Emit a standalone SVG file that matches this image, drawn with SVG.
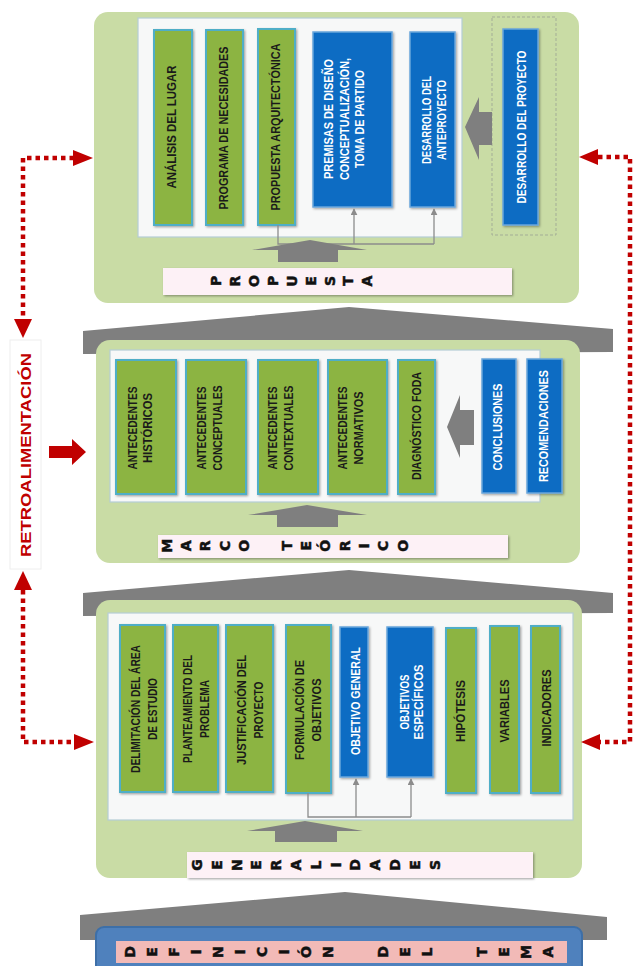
<svg xmlns="http://www.w3.org/2000/svg" width="640" height="966" viewBox="0 0 640 966">
<defs>
<style>
.panel{fill:#c9dca5}
.inner{fill:#f7f8f8;stroke:#b5cdd6;stroke-width:1.2}
.gbox{fill:#8cb443;stroke:#4faec7;stroke-width:2}
.bbox{fill:#0b6cc3;stroke:#6aa6dc;stroke-width:1.5}
.gray{fill:#7f7f7f}
.bar{fill:#fdf1f6}
.t{font-family:"Liberation Sans",Arial,sans-serif;font-weight:bold;font-size:13px;fill:#1a1a1a}
.tw{font-family:"Liberation Sans",Arial,sans-serif;font-weight:bold;font-size:12.5px;fill:#ffffff}
.title{font-family:"DejaVu Sans",sans-serif;font-weight:bold;font-size:14px;fill:#111111;stroke:#111111;stroke-width:0.5}
.conn{fill:none;stroke:#8c8c8c;stroke-width:1.3}
.fb{fill:none;stroke:#c00000;stroke-width:4.5;stroke-dasharray:4.5 4}
.red{fill:#c00000}
</style>
<marker id="ga" viewBox="0 0 10 10" refX="9" refY="5" markerWidth="7" markerHeight="7" markerUnits="userSpaceOnUse" orient="auto"><path d="M0,0 L10,5 L0,10 z" fill="#8c8c8c"/></marker>
<filter id="sh" x="-10%" y="-10%" width="130%" height="130%"><feDropShadow dx="1.2" dy="1.2" stdDeviation="1" flood-color="#000" flood-opacity="0.35"/></filter>
</defs>
<rect width="640" height="966" fill="#ffffff"/>

<g id="roofs">
<polygon class="gray" points="83,331 349,307 613,329 613,352 83,354"/>
<polygon class="gray" points="83,593 349,570 613,593 613,613 83,616"/>
<polygon class="gray" points="80,915 345,892 607,917 607,940 80,940"/>
</g>

<g id="panel-propuesta">
<rect class="panel" x="94" y="12" width="485" height="291" rx="14"/>
<rect class="inner" x="138" y="18" width="324" height="219"/>
<rect x="492" y="17" width="64" height="218" fill="none" stroke="#a3ad96" stroke-width="1" stroke-dasharray="3 2"/>
<g id="n-analisis"><rect class="gbox" filter="url(#sh)" x="154" y="30" width="38" height="195"/>
<text class="t" font-size="13.5" transform="translate(171,127) rotate(-90)" text-anchor="middle" y="4.9" textLength="123" lengthAdjust="spacingAndGlyphs">ANÁLISIS DEL LUGAR</text></g>
<g id="n-programa"><rect class="gbox" filter="url(#sh)" x="206" y="30" width="37" height="195"/>
<text class="t" font-size="13.5" transform="translate(223,128) rotate(-90)" text-anchor="middle" y="4.9" textLength="163" lengthAdjust="spacingAndGlyphs">PROGRAMA DE NECESIDADES</text></g>
<g id="n-propuesta-arq"><rect class="gbox" filter="url(#sh)" x="258" y="29" width="37" height="196"/>
<text class="t" font-size="13.5" transform="translate(275,127) rotate(-90)" text-anchor="middle" y="4.9" textLength="167" lengthAdjust="spacingAndGlyphs">PROPUESTA ARQUITECTÓNICA</text></g>
<g id="n-premisas"><rect class="bbox" filter="url(#sh)" x="313" y="32" width="79" height="175"/>
<text class="tw" transform="translate(344,119) rotate(-90)" text-anchor="middle"><tspan x="0" y="-11" textLength="120" lengthAdjust="spacingAndGlyphs">PREMISAS DE DISEÑO</tspan><tspan x="0" y="4.5" textLength="122" lengthAdjust="spacingAndGlyphs">CONCEPTUALIZACIÓN,</tspan><tspan x="0" y="20" textLength="98" lengthAdjust="spacingAndGlyphs">TOMA DE PARTIDO</tspan></text></g>
<g id="n-anteproyecto"><rect class="bbox" filter="url(#sh)" x="410" y="32" width="45" height="175"/>
<text class="tw" transform="translate(434,120) rotate(-90)" text-anchor="middle"><tspan x="0" y="-3" textLength="88" lengthAdjust="spacingAndGlyphs">DESARROLLO DEL</tspan><tspan x="0" y="12" textLength="80" lengthAdjust="spacingAndGlyphs">ANTEPROYECTO</tspan></text></g>
<g id="n-proyecto"><rect class="bbox" filter="url(#sh)" x="503" y="29" width="35" height="196"/>
<text class="tw" font-size="13" transform="translate(521,127) rotate(-90)" text-anchor="middle" y="4.7" textLength="153" lengthAdjust="spacingAndGlyphs">DESARROLLO DEL PROYECTO</text></g>
<g id="t-propuesta"><rect class="bar" filter="url(#sh)" x="163" y="268" width="349" height="27"/>
<text class="title" rotate="-90" x="221.1 240.0 258.9 277.8 296.7 315.6 334.5 353.4 372.3" y="286.1 286.4 287.0 286.1 286.7 285.8 286.0 285.8 286.4">PROPUESTA</text></g>
</g>

<g id="panel-marco">
<rect class="panel" x="96" y="340" width="484" height="223" rx="14"/>
<rect class="inner" x="110" y="350" width="430" height="152"/>
<g id="n-historicos"><rect class="gbox" filter="url(#sh)" x="116" y="360" width="60" height="134"/>
<text class="t" transform="translate(140,428) rotate(-90)" text-anchor="middle"><tspan x="0" y="-3.05" textLength="83" lengthAdjust="spacingAndGlyphs">ANTECEDENTES</tspan><tspan x="0" y="12.45" textLength="70" lengthAdjust="spacingAndGlyphs">HISTÓRICOS</tspan></text></g>
<g id="n-conceptuales"><rect class="gbox" filter="url(#sh)" x="186" y="360" width="60" height="134"/>
<text class="t" transform="translate(209.5,428) rotate(-90)" text-anchor="middle"><tspan x="0" y="-3.05" textLength="83" lengthAdjust="spacingAndGlyphs">ANTECEDENTES</tspan><tspan x="0" y="12.45" textLength="85" lengthAdjust="spacingAndGlyphs">CONCEPTUALES</tspan></text></g>
<g id="n-contextuales"><rect class="gbox" filter="url(#sh)" x="258" y="360" width="60" height="134"/>
<text class="t" transform="translate(280.5,428) rotate(-90)" text-anchor="middle"><tspan x="0" y="-3.05" textLength="83" lengthAdjust="spacingAndGlyphs">ANTECEDENTES</tspan><tspan x="0" y="12.45" textLength="85" lengthAdjust="spacingAndGlyphs">CONTEXTUALES</tspan></text></g>
<g id="n-normativos"><rect class="gbox" filter="url(#sh)" x="328" y="360" width="59" height="134"/>
<text class="t" transform="translate(350.5,428) rotate(-90)" text-anchor="middle"><tspan x="0" y="-3.05" textLength="83" lengthAdjust="spacingAndGlyphs">ANTECEDENTES</tspan><tspan x="0" y="12.45" textLength="73" lengthAdjust="spacingAndGlyphs">NORMATIVOS</tspan></text></g>
<g id="n-foda"><rect class="gbox" filter="url(#sh)" x="398" y="360" width="37" height="134"/>
<text class="t" transform="translate(416,426) rotate(-90)" text-anchor="middle" y="4.7" textLength="108" lengthAdjust="spacingAndGlyphs">DIAGNÓSTICO FODA</text></g>
<g id="n-conclusiones"><rect class="bbox" filter="url(#sh)" x="482" y="359" width="34" height="134"/>
<text class="tw" font-size="13" transform="translate(497,427) rotate(-90)" text-anchor="middle" y="4.7" textLength="87" lengthAdjust="spacingAndGlyphs">CONCLUSIONES</text></g>
<g id="n-recomendaciones"><rect class="bbox" filter="url(#sh)" x="527" y="359" width="35" height="134"/>
<text class="tw" font-size="13" transform="translate(543,426) rotate(-90)" text-anchor="middle" y="4.7" textLength="112" lengthAdjust="spacingAndGlyphs">RECOMENDACIONES</text></g>
<g id="t-marco"><rect class="bar" filter="url(#sh)" x="158" y="535" width="350" height="23"/>
<text class="title" font-size="13.5" rotate="-90" x="171.9 191.2 210.5 229.8 249.1 268 291.9 311.2 330.5 349.8 369.1 388.4 407.7" y="552.7 551.2 551.2 551.0 551.7 550 550.6 550.6 551.7 551.2 548.5 551.0 551.7">MARCO TEÓRICO</text></g>
</g>

<g id="panel-generalidades">
<rect class="panel" x="96" y="600" width="486" height="278" rx="14"/>
<rect class="inner" x="108" y="613" width="465" height="207"/>
<g id="n-delimitacion"><rect class="gbox" filter="url(#sh)" x="120" y="625" width="45" height="167"/>
<text class="t" transform="translate(143.5,709) rotate(-90)" text-anchor="middle"><tspan x="0" y="-3.8" textLength="128" lengthAdjust="spacingAndGlyphs">DELIMITACIÓN DEL ÁREA</tspan><tspan x="0" y="13.2" textLength="62" lengthAdjust="spacingAndGlyphs">DE ESTUDIO</tspan></text></g>
<g id="n-planteamiento"><rect class="gbox" filter="url(#sh)" x="173" y="625" width="45" height="167"/>
<text class="t" transform="translate(195.5,709) rotate(-90)" text-anchor="middle"><tspan x="0" y="-3.8" textLength="108" lengthAdjust="spacingAndGlyphs">PLANTEAMIENTO DEL</tspan><tspan x="0" y="13.2" textLength="58" lengthAdjust="spacingAndGlyphs">PROBLEMA</tspan></text></g>
<g id="n-justificacion"><rect class="gbox" filter="url(#sh)" x="226" y="625" width="47" height="167"/>
<text class="t" transform="translate(249.5,710) rotate(-90)" text-anchor="middle"><tspan x="0" y="-3.8" textLength="110" lengthAdjust="spacingAndGlyphs">JUSTIFICACIÓN DEL</tspan><tspan x="0" y="13.2" textLength="57" lengthAdjust="spacingAndGlyphs">PROYECTO</tspan></text></g>
<g id="n-formulacion"><rect class="gbox" filter="url(#sh)" x="286" y="625" width="45" height="168"/>
<text class="t" transform="translate(307.5,710) rotate(-90)" text-anchor="middle"><tspan x="0" y="-3.8" textLength="100" lengthAdjust="spacingAndGlyphs">FORMULACIÓN DE</tspan><tspan x="0" y="13.2" textLength="63" lengthAdjust="spacingAndGlyphs">OBJETIVOS</tspan></text></g>
<g id="n-objetivo-general"><rect class="bbox" filter="url(#sh)" x="340" y="627" width="28" height="150"/>
<text class="tw" font-size="13" transform="translate(355,701) rotate(-90)" text-anchor="middle" y="4.7" textLength="108" lengthAdjust="spacingAndGlyphs">OBJETIVO GENERAL</text></g>
<g id="n-objetivos-especificos"><rect class="bbox" filter="url(#sh)" x="387" y="627" width="46" height="150"/>
<text class="tw" transform="translate(411,702) rotate(-90)" text-anchor="middle"><tspan x="0" y="-2.5" textLength="55" lengthAdjust="spacingAndGlyphs">OBJETIVOS</tspan><tspan x="0" y="11.5" textLength="75" lengthAdjust="spacingAndGlyphs">ESPECÍFICOS</tspan></text></g>
<g id="n-hipotesis"><rect class="gbox" filter="url(#sh)" x="446" y="628" width="30" height="165"/>
<text class="t" transform="translate(460.5,711) rotate(-90)" text-anchor="middle" y="4.7" textLength="62" lengthAdjust="spacingAndGlyphs">HIPÓTESIS</text></g>
<g id="n-variables"><rect class="gbox" filter="url(#sh)" x="490" y="626" width="29" height="167"/>
<text class="t" transform="translate(504,711) rotate(-90)" text-anchor="middle" y="4.7" textLength="63" lengthAdjust="spacingAndGlyphs">VARIABLES</text></g>
<g id="n-indicadores"><rect class="gbox" filter="url(#sh)" x="531" y="626" width="29" height="167"/>
<text class="t" transform="translate(546,708) rotate(-90)" text-anchor="middle" y="4.7" textLength="77" lengthAdjust="spacingAndGlyphs">INDICADORES</text></g>
<g id="t-generalidades"><rect class="bar" filter="url(#sh)" x="187" y="852" width="346" height="26"/>
<text class="title" rotate="-90" x="202.1 221.9 241.7 261.5 281.3 301.1 320.9 340.7 360.5 380.3 400.1 419.9 439.7" y="870.8 869.8 870.9 869.8 870.4 870.4 869.5 867.6 870.8 870.4 870.8 869.8 870.0">GENERALIDADES</text></g>
</g>

<g id="n-definicion">
<rect x="96" y="927" width="486" height="50" rx="8" fill="#4f81bd" stroke="#3d6fa8" stroke-width="2"/>
<rect x="116" y="941" width="451" height="22" fill="#f2bab7"/>
<text class="title" rotate="-90" x="135.1 157.1 179.1 201.1 223.1 245.1 267.1 289.1 311.1 333.1 360.1 388.1 410.1 432.1 459.1 487.1 509.1 531.1 553.1" y="957.8 956.8 956.8 954.6 957.9 954.6 957.1 954.6 958.0 957.9 952 957.8 956.8 956.5 952 956.8 956.8 959.0 957.4">DEFINICIÓN DEL TEMA</text>
</g>

<g id="n-retro">
<rect x="10" y="340" width="31" height="229" fill="#ffffff" stroke="#eeeeee" stroke-width="1"/>
<text class="red" font-family="Liberation Sans, Arial, sans-serif" font-weight="bold" font-size="15.5" transform="translate(25.5,455) rotate(-90)" text-anchor="middle" y="5.6" textLength="204" lengthAdjust="spacingAndGlyphs">RETROALIMENTACIÓN</text>
</g>

<g id="connectors">
<path class="conn" d="M278,225 V244 H434"/>
<path class="conn" d="M354,244 V209" marker-end="url(#ga)"/>
<path class="conn" d="M434,244 V209" marker-end="url(#ga)"/>
<path class="conn" d="M308,793 V817 H411"/>
<path class="conn" d="M356,817 V779" marker-end="url(#ga)"/>
<path class="conn" d="M411,817 V779" marker-end="url(#ga)"/>
<polygon class="gray" points="310,240 367,250 338,250 338,262 278,262 278,250 252,250"/>
<polygon class="gray" points="307,505 367,515 338,515 338,527 277,527 277,515 248,515"/>
<polygon class="gray" points="305,821 363,831 337,831 337,842 275,842 275,831 247,831"/>
<polygon class="gray" points="465,127 479,97 479,112 492,112 492,145 479,145 479,160"/>
<polygon class="gray" points="447,427 460,395 460,410 474,410 474,445 460,445 460,458"/>
<path class="fb" d="M74,158 H23 V320"/>
<polygon class="red" points="93,158 73,150 73,166"/>
<polygon class="red" points="23,338 14,319 32,319"/>
<path class="fb" d="M23,590 V742 H74"/>
<polygon class="red" points="23,571 14,590 32,590"/>
<polygon class="red" points="94,742 74,734 74,750"/>
<path class="fb" d="M598,157 H630 V742 H600"/>
<polygon class="red" points="579,157 598,149 598,165"/>
<polygon class="red" points="581,742 600,734 600,750"/>
<polygon class="red" points="49,446 72,446 72,439 86,452 72,465 72,458 49,458"/>
</g>
</svg>
